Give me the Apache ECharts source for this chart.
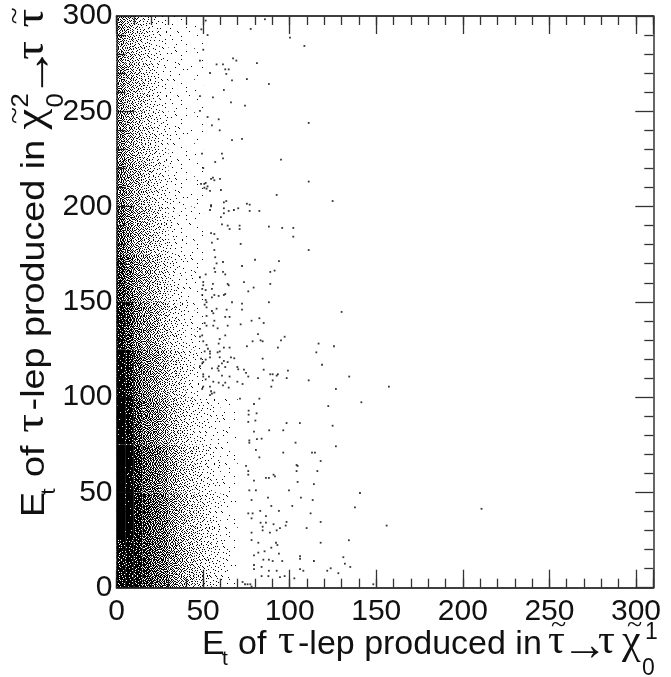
<!DOCTYPE html>
<html><head><meta charset="utf-8">
<style>html,body{margin:0;padding:0;background:#fff}#c{width:671px;height:677px}</style>
<script src="https://cdn.jsdelivr.net/npm/echarts@6/dist/echarts.min.js"></script>
</head><body><div id="c"></div>
<script>
const xTickMax = 310, yTickMax = 300;
const dotsUpperRight = [[51.5,297.6],[85.7,298.3],[49,293],[77.5,293.2],[52.6,290],[100.2,288.6],[108.5,284.3],[50.1,282.3],[67.3,277.8],[69.2,276.6],[48.2,276.6],[81.1,275.3],[57.8,274.6],[61.5,274.6],[62.8,272],[64.8,272],[54,270.1],[63.4,269.6],[75.3,266.9],[66.7,266.2],[88,264.3],[62,261.2],[48.2,258],[55.7,257.3],[66.1,254.7],[74.2,253],[48.2,250.2],[52.6,247],[59,245.8],[111,243.9],[55.1,242.6],[59.6,240],[66.7,234.9],[72.5,235.5],[49.4,227.8],[60.9,227.8],[61.5,225.3],[95,224.6],[57,223.4],[50.1,220.2],[54.6,214.5],[55.7,215.2],[56.5,213.8],[59.8,214.5],[111,213.1],[48.8,211.9],[51.5,212.4],[50.7,211.9],[52.6,210.6],[50.7,209.9],[52,209.4],[54,208.2],[60.3,208.7],[92.5,206.1],[124.8,202.9],[62,202.2],[63.4,202.9],[75.3,201.5],[76.9,201],[54.6,200.7],
[54.6,200.1],[62,199.1],[70.3,199.1],[54,198.2],[64.8,197.7],[67.8,198.2],[76.9,197.7],[82.5,197.7],[62,196.5],[60.3,194.5],[60.9,190.7],[64.2,190],[71.1,190],[65.3,188.2],[71.1,188.2],[88,189.5],[95.7,188.8],[102.1,188.8],[54.6,186.1],[56.5,185.6],[102.1,184.2],[58.4,183],[55.1,181.1],[71.7,180.4],[56.5,177.2],[111,177.2],[57,173.4],[80,172.1],[93.8,171.4],[61.5,170.9],[57.8,170.2],[72.5,168.8],[56.5,167.6],[57,165.7],[61.5,165.7],[88.8,165.7],[91.3,166.4],[62.8,164.4],[51.5,164.4],[48.2,162.9],[73.6,160.4],[50.1,160.4],[64.2,159.4],[64.8,158.7],[55.7,159.4],[50.1,158.7],[88.8,159.4],[55.1,156.8],[79.2,157.5],[49.5,156.8],[51.5,156.2],[76.1,155.5],[62.8,154.1],[62,153.6],[56.5,153.6],[59,153.1],[49.5,153.6],[55.1,152.4],[51.5,151],[66.7,149.8],[72.5,149.1],[88,149.8],[52,149.8],[50.9,148.5],[52,147.1],[57.8,146.4],[63.6,145.9],[72.5,145.9],[55.1,145.2],[55.9,144],[130,144.7],[52,142.6],[62.8,142.1],[65.3,142.1],[82.5,141.4],[56.5,140.1],[78,140.1],[50.9,138.9],[85,138.9],[71.7,138.2],[52,137.5],[55.9,137.5],[64.2,137.5],[58.4,136.1],[48.2,135.8],[81.7,133.1],[49.5,132.4],[62.8,132.4],[48.2,131.7],[97.1,131.7],[59.6,130.5],[95,129.8],[50.1,129.3],[83.2,129.8],[84.4,129.3],[78.6,129.3],[116.7,128.1],[59,128.1],[52,127.4],[75.3,126.7],[93.2,126],[125.6,126.7],[62,126],[65.3,126],[52.8,125.4],[50.9,124],[54,124],[59.6,124],[58.4,123.5],[115.4,123.5],[54,122.8],[66.1,120.9],[54,120.9],[59.6,120.9],[68,120.4],[84.4,120.2],[51.5,119.7],[48.8,120.2],[50.1,118.4],[62,119],[64.2,118.4],[60.9,117.7],[49.5,117.7],[48.2,116.3],[118.7,117],[69.8,115.8],[59,116.3],[62.8,115.8],[55.1,115.1],[58.4,115.1],[70.3,114.6],[73.6,114.4],[85,114.4],[99,113.9],[59,113.9],[74.8,112.7],[50.1,112],[88.8,112],[90.2,112],[93.2,112],[92.5,111.3],[60.9,111.3],[53.4,110.8],[65.3,110.8],[76.1,110.8],[50.1,110.8],[81.7,110],[98.3,110],[134.4,110.8],[51.5,109.3],[111,108.8],[55.9,108.1],[69.8,108.1],[59,107.6],[62.8,107.6],[90.2,108.8],[72.8,106.9],[61.5,106.2],[89.4,105.5],[157.3,105.5],[50.1,105.5],[54,105.5],[64.8,105],[126.7,104.3],[49.5,104.3],[54.6,103.1],[56.5,102.4],[54,101.1],[55.1,101.8]];
const dotsLowerRight = [[141.4,97.3],[122.3,95.3],[82.5,99.2],[71.3,99.2],[80.9,91.5],[76.3,92.9],[79.4,96.4],[76.3,90.8],[80.2,87.7],[76.1,87],[98.2,86.4],[105.9,86.4],[124.8,85],[88.2,82.6],[96.3,82.6],[79.4,81.9],[103.4,76.1],[126.7,74.2],[81.1,78],[83.8,78.2],[76.7,77.3],[76.7,76.1],[80.5,72.3],[96.3,70.9],[112.9,70.9],[114.6,70.9],[82.5,68.4],[117.9,66.5],[104,64.4],[104.6,63.9],[104,61.2],[116,61.2],[74.8,63.9],[76.1,61.2],[76.1,59.3],[90.7,59.3],[91.5,58.4],[86.3,57.6],[88,57.6],[79.4,56.2],[104.6,55.5],[114,54.3],[76.7,51.1],[80.5,51.1],[99.6,51.1],[140.6,49.7],[87.5,47.3],[106.5,47.3],[78,46],[113.3,46],[89.4,42.9],[101.5,42.9],[137.7,42.2],[210.8,41.4],[83,40.3],[93.8,40.3],[76.1,39],[78.6,39],[112.1,39],[86.3,37.6],[78,36.4],[83.2,34.1],[86.3,34.1],[90.7,33.3],[98.2,34.5],[117.9,34.5],[97.7,32.6],[156,32.6],[84.4,32],[94.4,31.3],[109.8,31.3],[84.4,30.1],[88.6,28.9],[92.5,30.1],[78,28.9],[78,25],[81.9,23.6],[92.1,23.6],[92.9,22.4],[117.9,23.6],[134.2,24.9],[89.4,21],[85.5,19.1],[81.9,18.4],[93.8,17.9],[79.4,17],[106,16.6],[106,15.2],[131,16],[84.8,14.7],[88,14.7],[90.2,14],[95.7,14],[114,14],[131.9,12.6],[79.4,11.9],[135,10.9],[79.4,9.7],[83.8,10.9],[123.7,10.2],[121.7,8.9],[106,9.7],[107.9,8.9],[92.5,8.9],[88,8.9],[128.1,7.6],[94.4,5.6],[97.1,6.1],[87.7,6.1],[102.7,4.9],[83.8,6.1],[74.2,1.8],[75.7,1.8],[77.3,1.8],[78,0.6],[148.3,1.8],[72.8,3]];
// Estimated ink coverage of the crowded zone, read by eye, in 5-wide x bins from x = 0
const coverageBinWidth = 5, coverageBinHeight = 25;
const coverage0to25 = [.85,.9,.85,.72,.6,.55,.4,.3,.22,.16,.1,.065,.035,.015];
const coverage25to50 = [1,.97,.85,.7,.6,.52,.36,.26,.18,.13,.08,.05,.025,.012];
const coverage50to75 = [1,.95,.8,.6,.55,.45,.3,.2,.14,.09,.055,.035,.02,.008];
const coverage75to100 = [.97,.9,.68,.52,.45,.33,.22,.14,.085,.055,.035,.025,.015,.006];
const coverage100to125 = [.93,.82,.58,.45,.36,.26,.16,.1,.055,.03];
const coverage125to150 = [.85,.68,.48,.38,.28,.18,.1,.055,.03,.018];
const coverage150to175 = [.72,.55,.38,.3,.2,.12,.065,.035,.02,.012];
const coverage175to200 = [.58,.42,.3,.22,.14,.08,.04,.022,.012,.008];
const coverage200to225 = [.48,.34,.25,.17,.1,.055,.03,.018,.008,.008];
const coverage225to250 = [.42,.3,.2,.13,.08,.045,.022,.012,.008,.004];
const coverage250to275 = [.38,.26,.18,.11,.06,.03,.018,.012,.008,.004];
const coverage275to300 = [.35,.24,.16,.09,.05,.03,.018,.012,.008,.004];
const coverageRows = [coverage0to25,coverage25to50,coverage50to75,coverage75to100,coverage100to125,coverage125to150,coverage150to175,coverage175to200,coverage200to225,coverage225to250,coverage250to275,coverage275to300];
const coverageCells = [];
coverageRows.forEach((row,r)=>row.forEach((c,i)=>{ if(c>0) coverageCells.push([i*coverageBinWidth,r*coverageBinHeight,c]); }));

// Fixed fill texture that shows a cell's coverage as fine black grain (style only, not data)
const grain = [
 201,17,148,66,233,109,5,179,91,244,38,128,212,59,162,23,
 84,240,35,190,12,155,72,225,28,117,196,7,98,251,136,75,
 130,52,103,218,140,42,250,101,170,54,143,230,49,183,13,207,
 3,174,253,81,22,205,121,15,214,87,1,165,112,67,238,94,
 228,119,44,159,96,186,64,236,134,33,198,76,247,31,150,56,
 26,73,208,8,242,30,146,48,177,105,254,19,124,193,10,171,
 152,191,93,125,61,166,89,220,11,70,156,43,216,85,234,107,
 40,237,16,221,113,2,203,127,245,189,58,138,4,161,47,123,
 99,68,180,36,248,141,83,37,60,97,223,20,182,255,78,200,
 144,211,6,158,51,195,24,168,132,210,14,116,69,34,227,18,
 252,29,120,90,226,74,239,103,9,46,175,243,153,106,139,65,
 55,169,231,41,129,0,147,53,192,82,122,27,217,50,184,95,
 197,110,77,187,21,213,88,249,32,235,63,160,100,8,246,39,
 12,241,142,62,164,115,44,176,137,15,204,92,178,126,71,154,
 86,45,206,25,232,57,199,79,108,224,57,30,240,42,219,111,
 173,131,1,102,145,19,163,229,6,149,185,118,66,194,3,135];
const flips = [[0,2,1,3],[3,0,2,1],[1,3,0,2],[2,1,3,0]];
const grainTiles = {};
function grainTile(c){
  if(grainTiles[c]) return grainTiles[c];
  const cv=document.createElement('canvas'); cv.width=cv.height=64;
  const ctx=cv.getContext('2d'); ctx.fillStyle='#000';
  for(let y=0;y<64;y++)for(let x=0;x<64;x++){
    const op=flips[y>>4][x>>4]; let a=x%16,b=y%16;
    if(op===1)a=15-a; else if(op===2)b=15-b; else if(op===3){const t=a;a=b;b=t;}
    if(grain[b*16+a]<c*256) ctx.fillRect(x,y,1,1);
  }
  return grainTiles[c]=cv;
}

const sans = '"Liberation Sans", Arial, sans-serif', serif = '"Liberation Serif", serif';
function piece(text,x,base,size,fam){
  return {type:'text',x:x,y:base-0.35*size,style:{text:text,font:size+'px '+(fam||sans),fill:'#111',verticalAlign:'middle',align:'left'}};
}
const leftPart = [piece('E',0,0,34),piece('t',20,10,21),piece('of',36,0,34),piece('\u03C4',76,0,42,serif),piece('-lep produced in',96,0,34)];
const xTitle = leftPart.concat([
  piece('\u03C4',346,0,42,serif),piece('~',349,-22,28,serif),piece('\u2192',360,7,46,serif),piece('\u03C4',396,0,42,serif),
  piece('\u03C7',420,0,42,serif),piece('~',425,-22,28,serif),piece('1',443,-16,23),piece('0',440,20,23)]);
const yTitle = leftPart.concat([
  piece('\u03C7',349,0,42,serif),piece('~',354,-22,28,serif),piece('2',369,-17,23),piece('0',369,18,23),
  piece('\u2192',378,7,46,serif),piece('\u03C4',412,0,42,serif),piece('\u03C4',441,0,42,serif),piece('~',444,-22,28,serif)]);

const line = {show:true,onZero:false,lineStyle:{color:'#333',width:1.5}};
const tick = len=>({show:true,inside:true,length:len,lineStyle:{color:'#333',width:1.3}});
function xAx(pos,interval,len,labels){
  return {type:'value',position:pos,min:0,max:xTickMax,interval:interval,axisLine:line,axisTick:tick(len),splitLine:{show:false},
    axisLabel:labels?{show:true,fontFamily:sans,fontSize:30,color:'#111',margin:9,formatter:v=>v===xTickMax?'':String(v)}:{show:false}};
}
function yAx(pos,len,labels){
  return {type:'value',position:pos,min:0,max:yTickMax,interval:50,axisLine:line,axisTick:tick(len),splitLine:{show:false},
    minorTick:{show:true,splitNumber:5,length:len/2,lineStyle:{color:'#333',width:1.3}},minorSplitLine:{show:false},
    axisLabel:labels?{show:true,fontFamily:sans,fontSize:30,color:'#111',margin:4}:{show:false}};
}
const dot = d=>({type:'scatter',data:d,symbol:'rect',symbolSize:1.8,itemStyle:{color:'#000'},silent:true,animation:false,z:3});
const chart = echarts.init(document.getElementById('c'),null,{renderer:'canvas'});
chart.setOption({
  animation:false,backgroundColor:'#fff',
  grid:{left:116.5,right:17.7,top:16,bottom:89.3,containLabel:false},
  xAxis:[xAx('bottom',50,18,true),xAx('bottom',10,9,false),xAx('top',50,18,false),xAx('top',10,9,false)],
  yAxis:[yAx('left',18,true),yAx('right',18,false)],
  series:[
    {type:'custom',data:coverageCells,silent:true,clip:true,z:2,encode:{x:0,y:1},
     renderItem:(p,api)=>{
       const a=api.coord([api.value(0),api.value(1)+coverageBinHeight]), b=api.coord([api.value(0)+coverageBinWidth,api.value(1)]);
       return {type:'rect',shape:{x:a[0],y:a[1],width:b[0]-a[0],height:b[1]-a[1]},style:{fill:{image:grainTile(api.value(2)),repeat:'repeat'}}};
     }},
    dot(dotsUpperRight),dot(dotsLowerRight)
  ],
  graphic:[
    {type:'group',x:202,y:657,children:xTitle},
    {type:'group',x:47,y:517,rotation:Math.PI/2,scaleX:1.11,children:yTitle}
  ]
});
</script></body></html>
